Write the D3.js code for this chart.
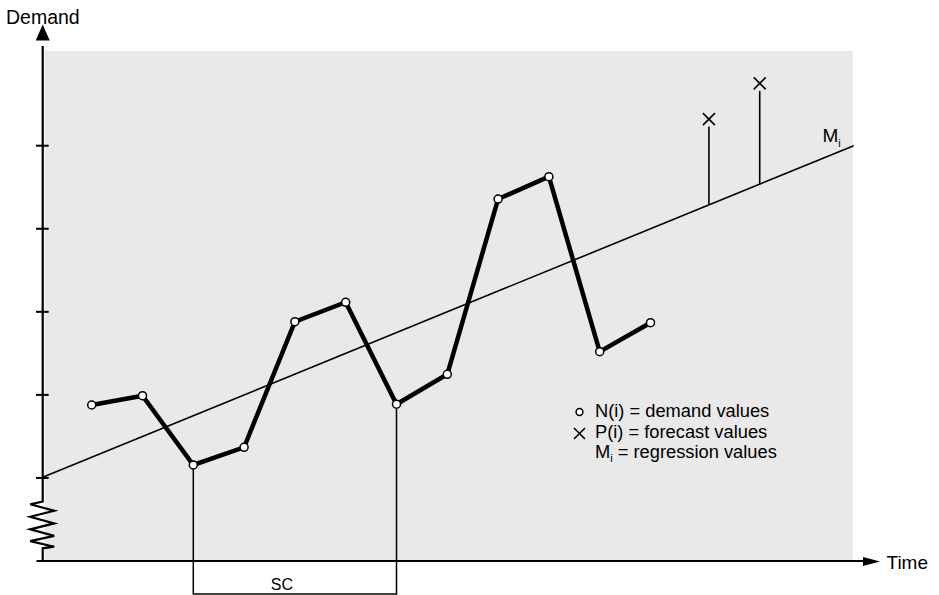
<!DOCTYPE html>
<html><head><meta charset="utf-8">
<script src="https://cdn.jsdelivr.net/npm/d3@7"></script>
<style>body{margin:0;background:#fff}svg{display:block}text{font-family:"Liberation Sans",Arial,sans-serif;fill:#000}</style>
</head><body><svg id="c" width="939" height="595"></svg>
<script>
// Data
const demandTimes = [1,2,3,4,5,6,7,8,9,10,11,12];
const demandValues = [1.878,1.99,1.156,1.369,2.881,3.115,1.887,2.248,4.358,4.627,2.52,2.869];
const forecastTimes = [13.15,14.15];
const forecastValues = [5.32,5.75];
const regressionIntercept = 1.0;
const regressionSlope = 0.25;
const regressionRange = [0.035,16];
const yTicks = [1,2,3,4,5];
const scPair = [3,7]; // demand indices (1-based time) bracketing SC
const legendItems = ["N(i) = demand values","P(i) = forecast values","M"];

const svg = d3.select("#c");
const x = d3.scaleLinear().domain([0,16]).range([40.9, 40.9+16*50.8]);
const y = d3.scaleLinear().domain([0,6]).range([561, 561-6*83.06]);
const axisX = 42.7;
const M = t => regressionIntercept + regressionSlope*t;

// grey plot background
svg.append("rect").attr("x",44.5).attr("y",y(6.14)).attr("width",x(15.98)-44.5).attr("height",561-y(6.14)).attr("fill","#e9e9e9");

// SC bracket
const i1 = demandTimes.indexOf(scPair[0]), i2 = demandTimes.indexOf(scPair[1]);
const brY = 594;
svg.append("path").attr("fill","none").attr("stroke","#000").attr("stroke-width",1.5)
  .attr("d",`M${x(demandTimes[i1])},${y(demandValues[i1])}V${brY}H${x(demandTimes[i2])}V${y(demandValues[i2])}`);
svg.append("text").attr("x",(x(demandTimes[i1])+x(demandTimes[i2]))/2-13).attr("y",589.5).attr("text-anchor","middle").attr("font-size",16).text("SC");

// regression line
svg.append("line").attr("x1",x(regressionRange[0])).attr("y1",y(M(regressionRange[0])))
  .attr("x2",x(regressionRange[1])).attr("y2",y(M(regressionRange[1]))).attr("stroke","#000").attr("stroke-width",1.6);

// forecast stems and markers
const fc = forecastTimes.map((t,i)=>({t,v:forecastValues[i]}));
svg.selectAll(".stem").data(fc).join("line").attr("class","stem")
  .attr("x1",d=>x(d.t)).attr("x2",d=>x(d.t)).attr("y1",d=>y(M(d.t))).attr("y2",d=>y(d.v)+7.5)
  .attr("stroke","#000").attr("stroke-width",1.6);
const cross = (g,cx,cy,s)=>g.append("path").attr("d",`M${cx-s},${cy-s}L${cx+s},${cy+s}M${cx-s},${cy+s}L${cx+s},${cy-s}`).attr("stroke","#000").attr("stroke-width",1.6).attr("fill","none");
fc.forEach(d=>cross(svg,x(d.t),y(d.v),6));

// M_i label
const ml = svg.append("text").attr("x",822.5).attr("y",141.5).attr("font-size",19);
ml.append("tspan").text("M");
ml.append("tspan").attr("font-size",11).attr("dy",5).text("i");

// demand line
const dd = demandTimes.map((t,i)=>({t,v:demandValues[i]}));
svg.append("path").datum(dd).attr("fill","none").attr("stroke","#000").attr("stroke-width",4.5).attr("stroke-linejoin","miter")
  .attr("d",d3.line().x(d=>x(d.t)).y(d=>y(d.v)));
svg.selectAll(".pt").data(dd).join("circle").attr("class","pt")
  .attr("cx",d=>x(d.t)).attr("cy",d=>y(d.v)).attr("r",4).attr("fill","#fff").attr("stroke","#000").attr("stroke-width",1.5);

// axes
const axG = svg.append("g").attr("stroke","#000").attr("fill","none");
axG.append("line").attr("x1",36.5).attr("x2",866).attr("y1",561).attr("y2",561).attr("stroke-width",2.2);
svg.append("path").attr("d","M863,557 L880,561.5 L863,566 Z").attr("fill","#000");
const zig = [[0,0.714],[-12.5,0.683],[11.5,0.605],[-12.5,0.533],[11.5,0.453],[-12.5,0.381],[11.5,0.303],[-12.5,0.24],[11.5,0.172],[0,0.153]];
let yd = `M${axisX},${y(0)}V${y(zig[zig.length-1][1])}`;
yd += zig.slice().reverse().map(p=>`L${axisX+p[0]},${y(p[1])}`).join("") + `V${y(6.2)}`;
axG.append("path").attr("d",yd).attr("stroke-width",2.2).attr("stroke-linejoin","miter");
svg.append("path").attr("d",`M${axisX},24.5 L${axisX-7},40.5 L${axisX+7},40.5 Z`).attr("fill","#000");
axG.selectAll(".yt").data(yTicks).join("line").attr("x1",36).attr("x2",48.7).attr("y1",d=>y(d)).attr("y2",d=>y(d)).attr("stroke-width",2);

// axis labels
svg.append("text").attr("x",6).attr("y",23.5).attr("font-size",19.5).text("Demand");
svg.append("text").attr("x",886.5).attr("y",568.5).attr("font-size",19).text("Time");

// legend
const lg = svg.append("g");
lg.append("circle").attr("cx",579.5).attr("cy",412).attr("r",3.4).attr("fill","#fff").attr("stroke","#000").attr("stroke-width",1.5);
cross(lg,579.5,433.5,5.5);
const ly = [416.7,437.5,458.3];
legendItems.forEach((s,i)=>{
  const t = lg.append("text").attr("x",595).attr("y",ly[i]).attr("font-size",18.3);
  if(s==="M"){t.append("tspan").text("M");t.append("tspan").attr("font-size",11).attr("dy",4).text("i");t.append("tspan").attr("dy",-4).text(" = regression values");}
  else t.text(s);
});
</script></body></html>
